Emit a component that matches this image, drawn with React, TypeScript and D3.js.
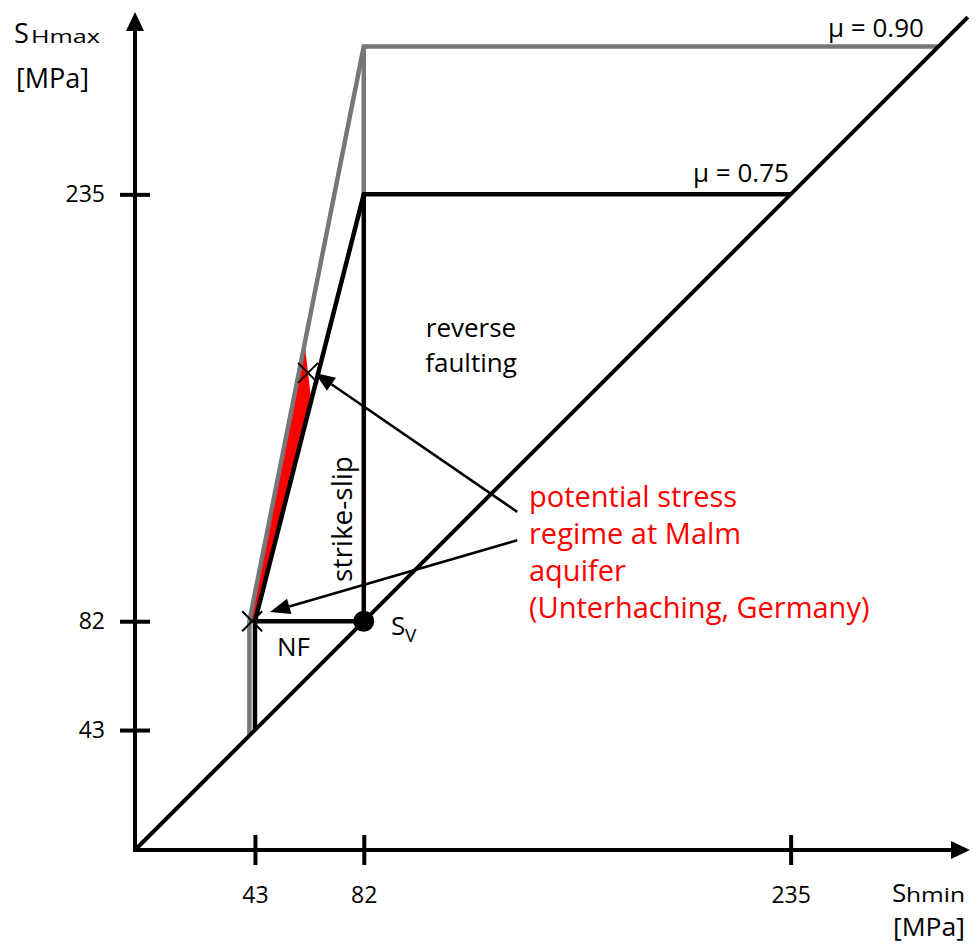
import { useEffect, useRef } from "react";
import * as d3 from "d3";

type Pt = [number, number];

// tick values on both axes (MPa)
const tickValues = [43, 82, 235];
const axisMax = 300;

// Sv = SHmin = SHmax line
const diagonal: Pt[] = [[0, 0], [298.5, 298.5]];

// mu = 0.75 frame (black)
const frame075: Pt[][] = [
  [[43, 43], [43, 82], [82, 235], [235, 235]],
  [[43, 82], [82, 82], [82, 235]],
];

// mu = 0.90 frame (grey)
const frame090: Pt[][] = [
  [[41, 41], [41, 82], [82, 288], [288, 288]],
  [[82, 235], [82, 288]],
];

// potential stress regime (red sliver)
const redRegion: Pt[] = [[41, 82], [60.8, 181.5], [63.2, 161], [43, 82]];

const crosses: Pt[] = [[42, 82], [62, 171]];
const svPoint: Pt = [82, 82];

const arrows: { from: Pt; to: Pt }[] = [
  { from: [137, 121.2], to: [64.5, 171] },
  { from: [137, 111], to: [48.4, 85.3] },
];

const redLines = [
  "potential stress",
  "regime at Malm",
  "aquifer",
  "(Unterhaching, Germany)",
];

const W = 977;
const H = 946;
const FONT = "'Open Sans', sans-serif";

export default function App() {
  const svgRef = useRef<SVGSVGElement>(null);

  useEffect(() => {
    if (!svgRef.current) return;
    const svg = d3.select(svgRef.current);
    svg.selectAll("*").remove();

    const x = d3.scaleLinear().domain([0, axisMax]).range([135, 135 + axisMax * 2.79]);
    const y = d3.scaleLinear().domain([0, axisMax]).range([850, 850 - axisMax * 2.79]);
    const line = d3
      .line<Pt>()
      .x((d) => x(d[0]))
      .y((d) => y(d[1]));

    const g = svg.append("g");

    // red area first so the frame lines sit on top
    g.append("path")
      .attr("d", line(redRegion) + "Z")
      .attr("fill", "#ff0000");

    // grey frame
    frame090.forEach((seg) =>
      g.append("path")
        .attr("d", line(seg))
        .attr("fill", "none")
        .attr("stroke", "#777777")
        .attr("stroke-width", 4.5)
        .attr("stroke-linejoin", "miter")
    );

    // black frame
    frame075.forEach((seg) =>
      g.append("path")
        .attr("d", line(seg))
        .attr("fill", "none")
        .attr("stroke", "#000")
        .attr("stroke-width", 4.5)
        .attr("stroke-linejoin", "miter")
    );

    g.append("path")
      .attr("d", line(diagonal))
      .attr("stroke", "#000")
      .attr("stroke-width", 4);

    // axes
    const x0 = x(0);
    const y0 = y(0);
    const xTip = x(axisMax) - 2;
    const yTip = y(axisMax) - 1;
    g.append("line")
      .attr("x1", x0).attr("y1", y0).attr("x2", xTip - 14).attr("y2", y0)
      .attr("stroke", "#000").attr("stroke-width", 4);
    g.append("line")
      .attr("x1", x0).attr("y1", y0 + 2).attr("x2", x0).attr("y2", yTip + 14)
      .attr("stroke", "#000").attr("stroke-width", 4);
    g.append("path")
      .attr("d", `M${xTip},${y0} L${xTip - 19},${y0 - 9} L${xTip - 19},${y0 + 9} Z`)
      .attr("fill", "#000");
    g.append("path")
      .attr("d", `M${x0},${yTip} L${x0 - 9},${yTip + 19} L${x0 + 9},${yTip + 19} Z`)
      .attr("fill", "#000");

    const styleAxis = (ax: d3.Selection<SVGGElement, unknown, null, undefined>) => {
      ax.select(".domain").remove();
      ax.selectAll(".tick line").attr("stroke", "#000").attr("stroke-width", 4);
      ax.selectAll("text")
        .attr("fill", "#000")
        .style("font-size", "23px")
        .style("font-family", FONT);
    };

    g.append("g")
      .attr("transform", `translate(0,${y0 - 15})`)
      .call(d3.axisBottom(x).tickValues(tickValues).tickSize(30).tickPadding(22).tickFormat(d3.format("d")))
      .call(styleAxis);

    g.append("g")
      .attr("transform", `translate(${x0 + 15},0)`)
      .call(d3.axisLeft(y).tickValues(tickValues).tickSize(30).tickPadding(15).tickFormat(d3.format("d")))
      .call(styleAxis);

    // Sv point
    g.append("circle")
      .attr("cx", x(svPoint[0]))
      .attr("cy", y(svPoint[1]))
      .attr("r", 10.5)
      .attr("fill", "#000");

    // crosses
    crosses.forEach(([cx, cy]) => {
      const px = x(cx);
      const py = y(cy);
      g.append("path")
        .attr("d", `M${px - 10},${py - 10}L${px + 10},${py + 10}M${px - 10},${py + 10}L${px + 10},${py - 10}`)
        .attr("stroke", "#000")
        .attr("stroke-width", 2);
    });

    // annotation arrows
    arrows.forEach(({ from, to }) => {
      const x1 = x(from[0]);
      const y1 = y(from[1]);
      const x2 = x(to[0]);
      const y2 = y(to[1]);
      const ang = Math.atan2(y2 - y1, x2 - x1);
      const len = 20;
      const hw = 8;
      const bx = x2 - len * Math.cos(ang);
      const by = y2 - len * Math.sin(ang);
      const nx = -Math.sin(ang) * hw;
      const ny = Math.cos(ang) * hw;
      g.append("line")
        .attr("x1", x1).attr("y1", y1).attr("x2", bx).attr("y2", by)
        .attr("stroke", "#000").attr("stroke-width", 2.5);
      g.append("path")
        .attr("d", `M${x2},${y2}L${bx + nx},${by + ny}L${bx - nx},${by - ny}Z`)
        .attr("fill", "#000");
    });

    // labels
    const txt = (tx: number, ty: number, s: string, size: number, anchor = "start") =>
      g.append("text")
        .attr("x", tx)
        .attr("y", ty)
        .attr("text-anchor", anchor)
        .style("font-family", FONT)
        .style("font-size", `${size}px`)
        .attr("fill", "#000")
        .text(s);

    txt(14, 43, "S", 27);
    txt(31, 43, "Hmax", 19)
      .attr("textLength", 69)
      .attr("lengthAdjust", "spacingAndGlyphs");
    txt(16, 88, "[MPa]", 27);

    txt(892, 902, "S", 26);
    txt(906, 902, "hmin", 20)
      .attr("textLength", 59)
      .attr("lengthAdjust", "spacingAndGlyphs");
    txt(893, 936, "[MPa]", 25)
      .attr("textLength", 72)
      .attr("lengthAdjust", "spacingAndGlyphs");

    txt(391, 635, "S", 26);
    txt(405, 642, "V", 19);

    txt(277, 656, "NF", 26);
    txt(471, 337, "reverse", 26, "middle");
    txt(471, 372, "faulting", 26, "middle");
    txt(0, 0, "strike-slip", 28, "middle").attr("transform", "translate(352,519) rotate(-90)");

    txt(693, 182, "μ = 0.75", 26);
    txt(828, 37, "μ = 0.90", 26);

    const red = g.append("text")
      .style("font-family", FONT)
      .style("font-size", "29px")
      .attr("fill", "#ff0000");
    redLines.forEach((s, i) =>
      red.append("tspan").attr("x", 529).attr("y", 507 + i * 37).text(s)
    );
  }, []);

  return (
    <div style={{ position: "absolute", left: 0, top: 0 }}>
      <svg ref={svgRef} width={W} height={H} style={{ display: "block", background: "#fff" }} />
    </div>
  );
}
